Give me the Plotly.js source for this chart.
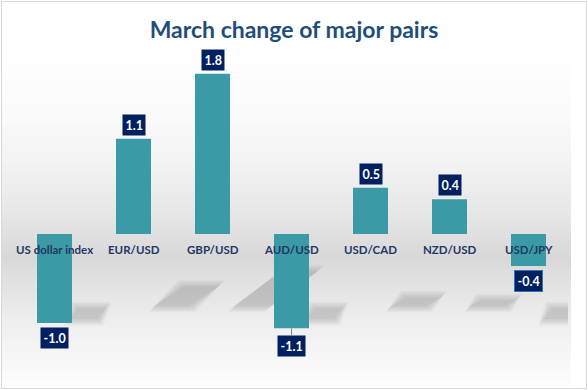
<!DOCTYPE html>
<html>
<head>
<meta charset="utf-8">
<script src="https://cdn.plot.ly/plotly-3.0.1.min.js"></script>
<style>
  html, body { margin: 0; padding: 0; background: #ffffff; }
  #chart { width: 588px; height: 390px; position: absolute; left: 0; top: 0; }
  #frame { position: absolute; left: 1px; top: 1px; width: 584px; height: 386px; border: 1px solid #d9d9d9; pointer-events: none; }
</style>
</head>
<body>
<div id="chart"></div>
<div id="frame"></div>
<script>
// ---- data ----
const categories = ['US dollar index', 'EUR/USD', 'GBP/USD', 'AUD/USD', 'USD/CAD', 'NZD/USD', 'USD/JPY'];
const changes = [-1.0, 1.07, 1.8, -1.06, 0.52, 0.39, -0.36];
const chartTitle = 'March change of major pairs';

// ---- layout constants ----
const W = 588, H = 390;
const M = { l: 15, r: 20, t: 60, b: 10 };
const plotW = W - M.l - M.r, plotH = H - M.t - M.b;
const yRange = [-1.640, 1.955];
const px2x = px => (px - M.l) / plotW;
const py2y = py => (H - M.b - py) / plotH;

const idx = categories.map((_, i) => i);
const shapes = [];

// background gradient (wall / floor)
const stops = [[40, 255], [120, 250], [170, 241], [220, 229], [258, 216], [280, 225], [320, 238], [360, 247], [388, 254]];
function grayAt(py) {
  for (let k = 0; k < stops.length - 1; k++) {
    const [a, ca] = stops[k], [b, cb] = stops[k + 1];
    if (py >= a && py <= b) return ca + (cb - ca) * (py - a) / (b - a);
  }
  return 255;
}
for (let py = 40; py < 388; py += 3) {
  const g = Math.round(grayAt(py + 1.5));
  shapes.push({
    type: 'rect', xref: 'paper', yref: 'paper', layer: 'below',
    x0: px2x(2), x1: px2x(571), y0: py2y(py + 3), y1: py2y(py),
    fillcolor: `rgb(${g},${g},${g})`, line: { width: 0 }
  });
}

// soft shadows derived from values
const yBase = -0.82;
changes.forEach((v, i) => {
  let pts;
  if (v > 0) {
    const h = 0.23 * v, s = 0.355 * v;
    pts = [[i + 0.25, yBase], [i + 0.72, yBase], [i + 0.72 + s, yBase + h], [i + 0.25 + s, yBase + h]];
  } else {
    pts = [[i + 0.18, yBase - 0.15], [i + 0.56, yBase - 0.15], [i + 0.66, yBase], [i + 0.28, yBase]];
  }
  const cx = pts.reduce((a, p) => a + p[0], 0) / 4, cy = pts.reduce((a, p) => a + p[1], 0) / 4;
  [0.06, 0.045, 0.03, 0.015, 0, -0.015].forEach(grow => {
    const g = pts.map(p => [p[0] + Math.sign(p[0] - cx) * grow, p[1] + Math.sign(p[1] - cy) * grow]);
    const path = 'M' + g.map(p => p[0] + ',' + p[1]).join(' L') + ' Z';
    shapes.push({ type: 'path', xref: 'x', yref: 'y', layer: 'below', path: path,
      fillcolor: 'rgba(0,0,0,0.028)', line: { width: 0 } });
  });
});

// annotations: category labels at the zero line + value boxes
const annotations = [];
categories.forEach((c, i) => {
  annotations.push({
    x: i, y: 0, xref: 'x', yref: 'y', text: '<b>' + c + '</b>', showarrow: false,
    yanchor: 'middle', yshift: -15,
    font: { family: 'Lato, sans-serif', size: 11.5, color: '#1f3864' }
  });
});
changes.forEach((v, i) => {
  const label = v.toFixed(1);
  const base = {
    x: i, y: v, xref: 'x', yref: 'y', text: '<b>' + label + '</b>',
    bgcolor: '#002060', borderpad: 2.5,
    font: { family: 'Lato, sans-serif', size: 12.5, color: '#ffffff' }
  };
  if (v > 0) {
    annotations.push(Object.assign(base, { showarrow: false, yanchor: 'bottom', yshift: 3 }));
  } else if (i === 3) {
    annotations.push(Object.assign(base, { showarrow: true, ax: 0, ay: 18, axref: 'pixel', ayref: 'pixel',
      arrowhead: 0, arrowwidth: 1, arrowcolor: '#808080', standoff: 0 }));
  } else {
    const extra = { showarrow: false, yanchor: 'top', yshift: -4 };
    if (i === 6) { extra.bordercolor = '#2e75b6'; extra.borderwidth = 1; }
    annotations.push(Object.assign(base, extra));
  }
});

const trace = {
  type: 'bar', x: idx, y: changes, width: 0.443,
  marker: { color: '#3a9ba6', line: { width: 0 } },
  hoverinfo: 'skip'
};

const layout = {
  width: W, height: H,
  margin: M,
  paper_bgcolor: 'rgba(0,0,0,0)', plot_bgcolor: 'rgba(0,0,0,0)',
  showlegend: false,
  title: {
    text: '<b>' + chartTitle + '</b>',
    x: 0.5, xref: 'container', xanchor: 'center',
    y: 1 - 30 / H, yref: 'container', yanchor: 'middle',
    font: { family: 'Lato, sans-serif', size: 23, color: '#1f4e79' }
  },
  xaxis: { range: [-0.5, 6.5], showgrid: false, zeroline: false, showticklabels: false, ticks: '', fixedrange: true },
  yaxis: { range: yRange, showgrid: false, zeroline: false, showticklabels: false, ticks: '', fixedrange: true },
  shapes: shapes,
  annotations: annotations
};

Plotly.newPlot('chart', [trace], layout, { displayModeBar: false, staticPlot: true });
</script>
</body>
</html>
